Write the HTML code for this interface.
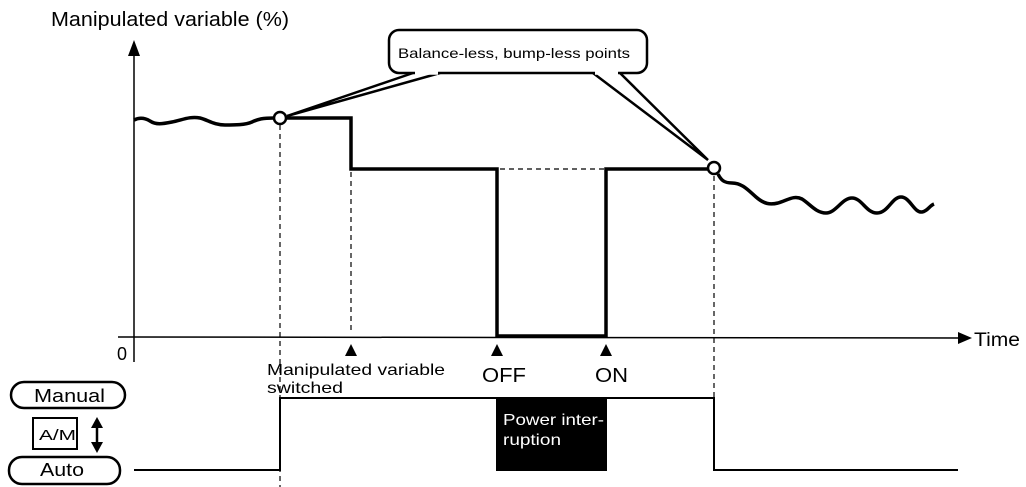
<!DOCTYPE html>
<html><head><meta charset="utf-8"><style>
html,body{margin:0;padding:0;background:#fff;}
svg{display:block;}
text{font-family:"Liberation Sans",Arial,sans-serif;fill:#000;}
</style></head><body>
<svg width="1026" height="487" viewBox="0 0 1026 487" xmlns="http://www.w3.org/2000/svg">
<text x="51" y="26" font-size="20" textLength="238" lengthAdjust="spacingAndGlyphs">Manipulated variable (%)</text>
<!-- y axis -->
<line x1="134" y1="55" x2="134" y2="362" stroke="#000" stroke-width="1.5"/>
<polygon points="128,56 140,56 134,40" fill="#000"/>
<!-- time axis -->
<line x1="118" y1="337" x2="960" y2="338" stroke="#000" stroke-width="1.5"/>
<polygon points="958,332 958,344 972,338" fill="#000"/>
<text x="974" y="346" font-size="19" textLength="46" lengthAdjust="spacingAndGlyphs">Time</text>
<text x="117" y="360" font-size="18">0</text>
<!-- dashed lines -->
<g stroke="#000" stroke-width="1.2" stroke-dasharray="5,4" fill="none">
<line x1="280" y1="125" x2="280" y2="487"/>
<line x1="351" y1="172" x2="351" y2="332"/>
<line x1="714" y1="176" x2="714" y2="398"/>
<line x1="500" y1="169" x2="604" y2="169"/>
</g>
<!-- step signal -->
<polyline points="286,118 351,118 351,169 497,169 497,336 606,336 606,169 708,169" fill="none" stroke="#000" stroke-width="3.5"/>
<!-- waves -->
<path d="M134,120 C140,117 145,118 150,121 C156,125 162,124 172,122 C182,120 190,116 200,118 C208,120 214,125 225,125 C235,125 245,125 252,122 C258,119 263,118 274,118" fill="none" stroke="#000" stroke-width="3.5"/>
<path d="M718,174 C721,180 724,183 732,183 C742,183 748,190 756,197 C764,204 770,205 778,203 C788,200 794,195 802,199 C810,204 816,213 826,213 C836,213 842,198 852,198 C862,198 866,213 877,213 C888,213 892,197 901,197 C910,197 914,213 922,212 C928,211 929,206 934,204" fill="none" stroke="#000" stroke-width="3.5"/>
<circle cx="280" cy="118" r="6" fill="#fff" stroke="#000" stroke-width="2.5"/>
<circle cx="714" cy="168" r="6" fill="#fff" stroke="#000" stroke-width="2.5"/>
<!-- callout -->
<path d="M413,73 L287,116 L440,73" fill="none" stroke="#000" stroke-width="2.5"/>
<path d="M593,73 L708,160 L620,73" fill="none" stroke="#000" stroke-width="2.5"/>
<rect x="389" y="30" width="258" height="43" rx="10" fill="#fff" stroke="#000" stroke-width="2.5"/>
<line x1="415" y1="73" x2="438" y2="73" stroke="#fff" stroke-width="3.5"/>
<line x1="595" y1="73" x2="618" y2="73" stroke="#fff" stroke-width="3.5"/>
<text x="398" y="58" font-size="14" textLength="232" lengthAdjust="spacingAndGlyphs">Balance-less, bump-less points</text>
<!-- triangles -->
<polygon points="345,356 357,356 351,344" fill="#000"/>
<polygon points="491,356 503,356 497,344" fill="#000"/>
<polygon points="600,356 612,356 606,344" fill="#000"/>
<text x="267" y="375" font-size="16" textLength="178" lengthAdjust="spacingAndGlyphs">Manipulated variable</text>
<text x="267" y="393" font-size="16" textLength="76" lengthAdjust="spacingAndGlyphs">switched</text>
<text x="482" y="382" font-size="20" textLength="44" lengthAdjust="spacingAndGlyphs">OFF</text>
<text x="595" y="382" font-size="20" textLength="33" lengthAdjust="spacingAndGlyphs">ON</text>
<!-- bottom signal -->
<polyline points="134,470 280,470 280,398 714,398 714,470 958,470" fill="none" stroke="#000" stroke-width="2"/>
<rect x="496" y="398" width="111" height="73" fill="#000"/>
<text x="503" y="425" font-size="16" textLength="101" lengthAdjust="spacingAndGlyphs" style="fill:#fff">Power inter-</text>
<text x="503" y="445" font-size="16" textLength="58" lengthAdjust="spacingAndGlyphs" style="fill:#fff">ruption</text>
<!-- labels -->
<rect x="11" y="382" width="114" height="26" rx="13" fill="#fff" stroke="#000" stroke-width="2.5"/>
<text x="34" y="402" font-size="18" textLength="71" lengthAdjust="spacingAndGlyphs">Manual</text>
<rect x="33" y="418" width="44" height="31" fill="#fff" stroke="#000" stroke-width="2"/>
<text x="39" y="440" font-size="15" textLength="37" lengthAdjust="spacingAndGlyphs">A/M</text>
<line x1="97" y1="426" x2="97" y2="444" stroke="#000" stroke-width="2.5"/>
<polygon points="91,428 103,428 97,417" fill="#000"/>
<polygon points="91,442 103,442 97,453" fill="#000"/>
<rect x="9" y="457" width="111" height="27" rx="13" fill="#fff" stroke="#000" stroke-width="2.5"/>
<text x="40" y="476" font-size="18" textLength="44" lengthAdjust="spacingAndGlyphs">Auto</text>
</svg>
</body></html>
